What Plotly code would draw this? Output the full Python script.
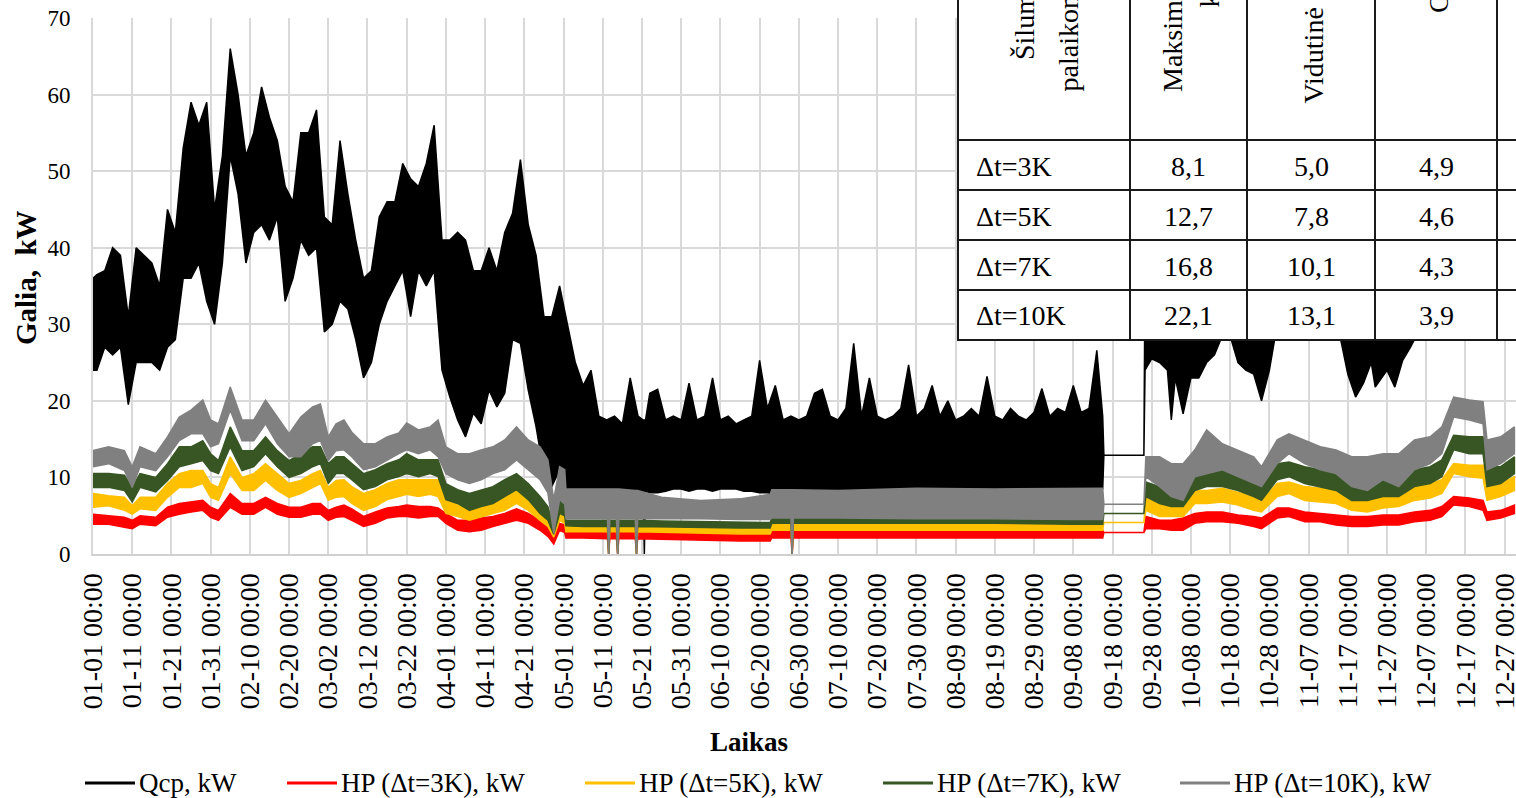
import plotly.graph_objects as go

# ---------------- data ----------------
TICK_DAYS = list(range(0, 361, 10))
TICK_LABELS = ["01-01 00:00", "01-11 00:00", "01-21 00:00", "01-31 00:00", "02-10 00:00",
               "02-20 00:00", "03-02 00:00", "03-12 00:00", "03-22 00:00", "04-01 00:00",
               "04-11 00:00", "04-21 00:00", "05-01 00:00", "05-11 00:00", "05-21 00:00",
               "05-31 00:00", "06-10 00:00", "06-20 00:00", "06-30 00:00", "07-10 00:00",
               "07-20 00:00", "07-30 00:00", "08-09 00:00", "08-19 00:00", "08-29 00:00",
               "09-08 00:00", "09-18 00:00", "09-28 00:00", "10-08 00:00", "10-18 00:00",
               "10-28 00:00", "11-07 00:00", "11-17 00:00", "11-27 00:00", "12-07 00:00",
               "12-17 00:00", "12-27 00:00"]

SERIES_NAMES = ["Qcp, kW", "HP (\u0394t=3K), kW", "HP (\u0394t=5K), kW",
                "HP (\u0394t=7K), kW", "HP (\u0394t=10K), kW"]
SERIES_COLORS = ["#000000", "#FF0000", "#FFC000", "#375623", "#808080"]

# Qcp: daily envelope (low / high), day of year
QCP_DAYS = [0, 1, 3, 5, 7, 9, 11, 13, 15, 17, 19, 21, 23, 25, 27, 29, 31, 33, 35, 37, 39,
            41, 43, 45, 47, 49, 51, 53, 55, 57, 59, 61, 63, 65, 67, 69, 71, 73, 75, 77, 79,
            81, 83, 85, 87, 89, 91, 93, 95, 97, 99, 101, 103, 105, 107, 109, 111, 113, 115,
            117, 119, 121, 123, 125,
            127, 129, 131, 133, 135, 137, 139, 140.3, 140.6, 140.9,
            142, 144, 146, 148, 150, 152, 154, 156, 158, 160, 162, 164, 166, 168, 170, 172,
            174, 176, 178, 180, 182, 184, 186, 188, 190, 192, 194, 196, 198, 200, 202, 204,
            206, 208, 210, 212, 214, 216, 218, 220, 222, 224, 226, 228, 230, 232, 234, 236,
            238, 240, 242, 244, 246, 248, 250, 252, 254, 256, 257.5, 257.8, 268.0, 268.3,
            270, 272, 274, 275, 276, 278, 280, 282, 284, 286, 288, 290, 292, 294, 296, 298,
            300, 302, 304, 306, 308, 310, 312, 314, 316, 318, 320, 322, 324, 326, 327, 330,
            332, 334, 336, 338, 340, 342, 344, 346, 348, 350, 352, 354, 356, 358, 360, 362.5]
QCP_HI = [36, 36.5, 37, 40, 39, 31, 40, 39, 38, 35, 45, 42, 53, 59, 56, 59, 45, 52, 66, 60,
          52, 55, 61, 57, 54, 48, 46, 55, 55, 58, 44, 43, 54, 47, 41, 36, 37, 44, 46, 46,
          51, 49, 48, 51, 56, 41, 41, 42, 41, 37, 37, 40, 37, 42, 44.5, 51.5, 43, 39, 31, 31,
          35, 30, 25, 22,
          24, 18, 17.5, 18, 17, 23, 18, 17.5, 17.5, 17.5,
          21, 21.5, 17.5, 18, 17.5, 22.3, 17.5, 18, 23, 17.5,
          18, 17, 17.5, 18, 25.3, 19, 22, 17.5, 18, 17.5,
          18, 21, 21.5, 18, 17.5, 19, 27.5, 18, 23, 18,
          17.5, 18, 19, 24.7, 18, 19, 22, 18, 20, 17.5,
          18, 19, 18, 23.2, 18, 17.5, 19, 18, 17.5, 18.5,
          21.6, 18, 19, 18.5, 22, 18.5, 19, 26.6,
          18, 12.9, 12.9, 38,
          38, 38, 38, 38, 38, 38, 38, 38, 38, 38, 38, 38, 38, 38, 38, 38,
          40, 44, 44, 45, 44, 42, 42, 40, 40, 38, 38, 38, 38, 38, 38, 38,
          38, 38, 40, 42, 42, 44, 46, 50, 52, 52, 50, 50, 42, 42, 44, 45]
QCP_LO = [24, 24, 27, 26, 27, 19.5, 25, 25, 25, 24, 27, 28, 36, 36, 38, 33, 30, 38, 52, 47,
          38, 42, 43, 41, 44, 33, 36, 41, 39, 40, 29, 30, 33, 32, 28, 23, 25, 30, 33, 35,
          37, 31, 37, 35, 37, 24, 20.5, 17.5, 15.3, 18.4, 17, 21.4, 19.2, 21, 28, 27.5, 21.4,
          16.6, 10.5, 8.8, 11, 8.4, 8.4, 8,
          8.2, 8.2, 8, 8, 8, 8, 8.2, 8.2, 0, 8.2,
          8, 8, 8.2, 8.5, 8.5, 8.2, 8.5, 8.5, 8.2, 8.5,
          8.5, 8.5, 8.2, 8.2, 8, 8, 7.8, 8, 7.5, 8,
          8, 7.8, 8, 8, 8, 7.8, 8, 8, 7.8, 8,
          8, 8, 7.8, 8, 8, 8, 7.8, 8, 8, 8,
          7.8, 8, 8, 7.8, 8, 8, 8, 7.8, 8, 8,
          7.8, 8, 8, 7.8, 8, 7.5, 8, 8,
          8.5, 12.9, 12.9, 24,
          25.5, 25, 24, 17.5, 23, 18.3, 23, 23, 25, 26, 28.5, 28.5, 25, 24, 23.5, 20,
          24, 30, 31, 31, 30, 30, 30, 29, 29, 28.5, 23.5, 20.5, 22.3, 25, 21.8, 24,
          21.8, 25.3, 27, 29, 30, 30, 32, 36, 38, 38, 37, 36, 30, 30, 31, 32]

# Heat-pump series: low / high of each band, day of year
HP_DAYS = [0, 4, 8, 10, 12, 16, 19, 22, 25, 28, 30, 32, 35, 38, 41, 44, 47, 50, 53, 56,
           58, 60, 62, 64, 66, 69, 72, 75, 78, 80, 83, 86, 88, 90, 93, 96, 99, 102, 105, 108,
           111, 114, 116, 117.5, 119, 120.3, 120.6, 125,
           131.2, 131.5, 131.8, 133.5, 133.8, 134.1, 138.3, 138.6, 138.9,
           145, 155, 165, 172.7, 173.1, 178.0, 178.3, 178.6,
           190, 210, 230, 250, 257.5, 257.8, 268.0,
           268.5, 272, 275, 278, 281, 284, 288, 292, 296, 298,
           302, 305, 309, 313, 317, 321, 325, 329, 333, 337,
           341, 344, 347, 351, 354.5, 355.5, 359, 362.5]

HP10_LO = [11.4, 11.8, 10.9, 8.7, 11.4, 10.9, 12.7, 14.8, 15.7, 15.7, 14.0, 14.4, 18.8, 14.8,
           14.8, 17.0, 14.4, 12.7, 12.7, 14.4, 14.8, 12.2, 13.5, 13.6, 12.7, 11.0, 11.4, 12.3,
           13.1, 13.6, 13.1, 13.6, 12.7, 10.5, 9.7, 9.2, 9.7, 10.5, 11.0, 12.3, 11.0, 9.7,
           8.0, 2.7, 7.1, 6.5, 4.6, 4.6,
           4.6, 0, 4.6, 4.6, 0, 4.6, 4.6, 0, 4.6,
           4.6, 4.6, 4.5, 4.5, 4.7, 4.7, 0, 4.7,
           4.7, 4.6, 4.6, 4.5, 4.5, 6.5, 6.5,
           10.1, 8.8, 7.5, 7.0, 10.1, 10.5, 11.0, 10.1, 9.2, 8.8,
           11.8, 13.1, 11.8, 11.0, 10.5, 8.8, 8.3, 9.7, 8.8, 11.0,
           11.8, 13.1, 17.9, 17.5, 17.0, 11.0, 11.8, 13.1]
HP10_HI = [13.5, 14.0, 13.5, 11.4, 14.0, 13.1, 15.3, 17.9, 18.8, 20.1, 17.5, 17.0, 21.8, 17.5,
           17.5, 20.1, 17.9, 15.7, 17.9, 19.2, 19.6, 15.3, 17.0, 17.5, 15.9, 14.4, 14.4, 15.3,
           15.8, 17.1, 16.2, 16.6, 17.5, 14.0, 13.1, 13.1, 13.6, 14.0, 14.9, 16.6, 14.9, 14.0,
           12.3, 7.1, 11.4, 11.0, 8.5, 8.5,
           8.5, 8.5, 8.5, 8.5, 8.5, 8.5, 8.3, 8.3, 8.3,
           7.4, 7.0, 7.2, 7.8, 8.4, 8.4, 8.4, 8.4,
           8.3, 8.6, 8.5, 8.6, 8.6, 6.5, 6.5,
           12.7, 12.7, 11.8, 11.8, 13.6, 16.2, 14.4, 13.6, 12.7, 11.4,
           14.9, 15.7, 14.9, 14.0, 13.6, 12.7, 12.7, 13.1, 13.1, 14.9,
           15.3, 16.6, 20.5, 20.1, 19.9, 14.9, 15.3, 16.6]

HP7_LO = [8.7, 8.7, 8.3, 6.8, 8.7, 8.1, 9.6, 11.4, 11.8, 12.2, 10.9, 10.5, 14.0, 10.9,
          11.4, 13.1, 11.4, 10.0, 10.5, 11.4, 11.8, 9.2, 10.5, 10.5, 9.7, 8.4, 8.8, 9.7,
          10.1, 10.5, 10.1, 10.5, 10.1, 7.1, 6.6, 5.7, 6.2, 6.6, 7.5, 8.4, 7.1, 5.3,
          4.4, 2.6, 5.3, 5.0, 3.7, 3.6,
          3.6, 0, 3.6, 3.6, 0, 3.6, 3.6, 0, 3.6,
          3.6, 3.5, 3.4, 3.4, 4.0, 4.0, 0, 4.0,
          4.0, 4.0, 4.0, 3.9, 3.9, 5.3, 5.3,
          7.5, 6.6, 6.2, 6.2, 8.3, 8.8, 8.8, 8.3, 7.5, 7.0,
          9.7, 10.1, 9.2, 8.8, 8.3, 7.0, 7.0, 7.5, 7.5, 8.8,
          9.2, 10.1, 13.6, 13.1, 13.1, 8.8, 9.2, 10.5]
HP7_HI = [10.5, 10.5, 10.3, 8.7, 10.5, 10.0, 11.8, 14.0, 14.0, 14.8, 13.1, 12.2, 16.6, 13.5,
          13.5, 15.3, 13.5, 12.2, 13.1, 14.0, 14.0, 11.8, 12.7, 12.7, 11.8, 10.5, 11.0, 11.8,
          12.3, 13.1, 12.3, 12.3, 12.3, 9.2, 8.4, 7.9, 8.4, 8.8, 9.7, 10.5, 9.2, 7.5,
          6.2, 3.6, 7.1, 6.6, 4.4, 4.4,
          4.4, 4.4, 4.4, 4.4, 4.4, 4.4, 4.4, 4.4, 4.4,
          4.3, 4.2, 4.1, 4.1, 4.7, 4.7, 4.7, 4.7,
          4.7, 4.7, 4.7, 4.6, 4.6, 5.3, 5.3,
          9.4, 8.8, 8.8, 9.2, 10.5, 11.0, 11.0, 10.5, 10.1, 9.2,
          11.8, 12.0, 11.4, 11.0, 10.5, 9.7, 9.2, 9.7, 10.1, 11.0,
          11.4, 12.3, 15.5, 15.3, 15.3, 11.4, 11.4, 12.7]

HP5_LO = [6.1, 6.3, 5.7, 5.2, 5.9, 5.7, 7.4, 8.7, 8.7, 9.2, 7.4, 7.0, 10.5, 8.3,
          8.3, 9.6, 8.3, 7.4, 7.9, 8.7, 9.2, 7.0, 7.4, 7.5, 6.6, 5.7, 6.2, 7.1,
          7.5, 7.8, 7.5, 7.8, 7.5, 5.3, 4.9, 4.4, 4.9, 5.3, 5.7, 6.6, 5.7, 4.4,
          3.6, 2.2, 4.4, 4.0, 2.9, 2.9,
          2.9, 0, 2.9, 2.9, 0, 2.9, 2.9, 0, 2.9,
          2.8, 2.7, 2.6, 2.6, 3.1, 3.1, 0, 3.1,
          3.1, 3.1, 3.1, 3.1, 3.1, 4.1, 4.1,
          5.7, 4.9, 4.9, 4.9, 6.6, 6.6, 6.8, 6.4, 5.7, 5.5,
          7.5, 7.9, 7.0, 6.8, 6.6, 5.7, 5.5, 6.0, 6.2, 7.0,
          7.3, 7.9, 10.5, 10.1, 9.9, 7.0, 7.5, 8.3]
HP5_HI = [7.9, 7.6, 7.4, 6.3, 7.4, 7.4, 9.2, 10.5, 10.9, 10.9, 9.2, 8.7, 12.7, 10.0,
          10.5, 11.8, 10.5, 9.2, 9.6, 10.5, 10.9, 8.7, 9.6, 9.7, 8.8, 7.9, 8.4, 9.2,
          9.7, 9.7, 9.7, 9.7, 9.7, 7.5, 6.6, 6.2, 6.6, 7.1, 7.9, 8.8, 7.5, 6.2,
          4.9, 3.1, 5.7, 5.5, 3.7, 3.6,
          3.6, 3.6, 3.6, 3.6, 3.6, 3.6, 3.6, 3.6, 3.6,
          3.5, 3.4, 3.3, 3.3, 4.0, 4.0, 4.0, 4.0,
          4.0, 4.0, 4.0, 4.0, 4.0, 4.1, 4.1,
          7.3, 6.6, 6.2, 6.6, 8.3, 8.3, 8.6, 8.1, 7.5, 7.0,
          9.2, 9.4, 8.8, 8.6, 8.3, 7.5, 7.5, 7.9, 7.9, 8.8,
          9.2, 9.7, 11.8, 11.6, 11.6, 8.8, 9.2, 10.1]

HP3_LO = [3.9, 3.9, 3.5, 3.3, 3.9, 3.7, 4.8, 5.2, 5.5, 5.7, 4.8, 4.4, 6.1, 5.2,
          5.2, 6.1, 5.2, 4.8, 4.8, 5.2, 5.2, 4.4, 4.8, 4.9, 4.4, 3.6, 4.0, 4.7,
          4.9, 4.9, 4.7, 4.9, 4.9, 4.0, 3.1, 2.9, 3.1, 3.6, 4.0, 4.4, 4.0, 3.1,
          2.3, 1.3, 3.1, 2.8, 2.1, 2.1,
          2.0, 0, 2.0, 2.0, 0, 2.0, 2.0, 0, 2.0,
          1.9, 1.8, 1.7, 1.7, 2.1, 2.1, 0, 2.1,
          2.1, 2.1, 2.1, 2.1, 2.1, 2.8, 2.8,
          3.3, 3.3, 3.1, 3.1, 4.0, 4.2, 4.2, 4.0, 3.6, 3.3,
          4.7, 4.9, 4.2, 4.2, 3.8, 3.6, 3.6, 3.8, 3.8, 4.2,
          4.4, 4.9, 6.4, 6.2, 5.7, 4.4, 4.7, 5.3]
HP3_HI = [5.2, 5.0, 4.8, 4.4, 5.0, 4.8, 6.1, 6.6, 6.8, 7.0, 6.1, 5.7, 7.9, 6.6,
          6.6, 7.4, 6.6, 6.1, 6.1, 6.6, 6.6, 5.7, 6.1, 6.4, 5.9, 4.9, 5.5, 6.0,
          6.2, 6.4, 6.2, 6.2, 6.0, 5.3, 4.4, 4.4, 4.7, 4.9, 5.3, 5.9, 5.3, 4.4,
          3.6, 2.0, 4.0, 3.8, 3.0, 2.9,
          2.9, 2.9, 2.9, 2.9, 2.9, 2.9, 2.8, 2.8, 2.8,
          2.8, 2.7, 2.6, 2.6, 3.1, 3.1, 3.1, 3.1,
          3.1, 3.1, 3.1, 3.1, 3.1, 2.8, 2.8,
          4.9, 4.4, 4.4, 4.7, 5.3, 5.5, 5.5, 5.1, 4.9, 4.7,
          6.0, 6.0, 5.5, 5.3, 5.1, 4.9, 4.9, 5.1, 5.1, 5.5,
          5.7, 6.2, 7.5, 7.3, 7.0, 5.5, 5.7, 6.4]

# Inset table
TABLE_HEADERS = [["\u0160ilumos siurblio", "palaikomas \u0394t"],
                 ["Maksimali galia,", "kW"],
                 ["Vidutin\u0117 galia, kW"],
                 ["COP"]]
TABLE_ROWS = ["\u0394t=3K", "\u0394t=5K", "\u0394t=7K", "\u0394t=10K"]
TABLE_MAX = ["8,1", "12,7", "16,8", "22,1"]
TABLE_AVG = ["5,0", "7,8", "10,1", "13,1"]
TABLE_COP = ["4,9", "4,6", "4,3", "3,9"]

# ---------------- layout helpers (pixel geometry) ----------------
W, H = 1516, 798
PL, PR, PT, PB = 93, 1516, 18, 554
FONT = "Liberation Serif, Times New Roman, serif"


def px_x(p):
    return (p - PL) / (PR - PL)


def px_y(p):
    return (PB - p) / (PB - PT)


def band(days, lo, hi, color):
    d = list(days)
    return go.Scatter(x=d + d[::-1], y=list(hi) + list(lo)[::-1], mode="lines",
                      fill="toself", fillcolor=color,
                      line=dict(color=color, width=1.5),
                      showlegend=False, hoverinfo="skip")


fig = go.Figure()
fig.add_trace(band(QCP_DAYS, QCP_LO, QCP_HI, SERIES_COLORS[0]))
fig.add_trace(band(HP_DAYS, HP3_LO, HP3_HI, SERIES_COLORS[1]))
fig.add_trace(band(HP_DAYS, HP5_LO, HP5_HI, SERIES_COLORS[2]))
fig.add_trace(band(HP_DAYS, HP7_LO, HP7_HI, SERIES_COLORS[3]))
fig.add_trace(band(HP_DAYS, HP10_LO, HP10_HI, SERIES_COLORS[4]))

shapes = []
annotations = []

# ---- table ----
T_LEFT, T_RIGHT, T_TOP = 958, 1540, -6
COL_X = [958, 1130, 1247, 1375, 1497]
ROW_Y = [140, 190, 240, 290, 340]
shapes.append(dict(type="rect", xref="paper", yref="paper",
                   x0=px_x(T_LEFT), x1=px_x(T_RIGHT), y0=px_y(ROW_Y[-1]), y1=px_y(T_TOP),
                   fillcolor="white", line=dict(width=0), layer="above"))
for yy in ROW_Y:
    shapes.append(dict(type="line", xref="paper", yref="paper",
                       x0=px_x(T_LEFT - 1), x1=px_x(T_RIGHT), y0=px_y(yy), y1=px_y(yy),
                       line=dict(color="#1a1a1a", width=2), layer="above"))
for xx in COL_X:
    shapes.append(dict(type="line", xref="paper", yref="paper",
                       x0=px_x(xx), x1=px_x(xx), y0=px_y(ROW_Y[-1] + 1), y1=px_y(T_TOP),
                       line=dict(color="#1a1a1a", width=2), layer="above"))

TFONT = dict(family=FONT, size=28, color="black")
header_pos = [[(1024, 62), (1068, 94)], [(1173, 94), (1209, 10)], [(1313, 106)], [(1439, 15)]]
for lines, poss in zip(TABLE_HEADERS, header_pos):
    for txt, (cx, by) in zip(lines, poss):
        annotations.append(dict(text=txt, xref="paper", yref="paper",
                                x=px_x(cx), y=px_y(by), xanchor="center", yanchor="bottom",
                                textangle=-90, showarrow=False, font=TFONT))
row_centers = [166, 216, 266, 315]
for i, rc in enumerate(row_centers):
    annotations.append(dict(text=TABLE_ROWS[i], xref="paper", yref="paper",
                            x=px_x(974), y=px_y(rc), xanchor="left", yanchor="middle",
                            showarrow=False, font=TFONT))
    for col_vals, cx in ((TABLE_MAX, 1188), (TABLE_AVG, 1311), (TABLE_COP, 1436)):
        annotations.append(dict(text=col_vals[i], xref="paper", yref="paper",
                                x=px_x(cx), y=px_y(rc), xanchor="center", yanchor="middle",
                                showarrow=False, font=TFONT))

# ---- axis titles ----
annotations.append(dict(text="<b>Galia,  kW</b>", xref="paper", yref="paper",
                        x=px_x(26), y=px_y(278), xanchor="center", yanchor="middle",
                        textangle=-90, showarrow=False,
                        font=dict(family=FONT, size=29, color="black")))
annotations.append(dict(text="<b>Laikas</b>", xref="paper", yref="paper",
                        x=px_x(749), y=px_y(742), xanchor="center", yanchor="middle",
                        showarrow=False, font=dict(family=FONT, size=27, color="black")))

# ---- legend (drawn manually) ----
LEG_Y = 783
leg_x = [85, 287, 585, 883, 1180]
for name, color, lx in zip(SERIES_NAMES, SERIES_COLORS, leg_x):
    shapes.append(dict(type="line", xref="paper", yref="paper",
                       x0=px_x(lx), x1=px_x(lx + 50), y0=px_y(LEG_Y), y1=px_y(LEG_Y),
                       line=dict(color=color, width=3)))
    annotations.append(dict(text=name, xref="paper", yref="paper",
                            x=px_x(lx + 52), y=px_y(LEG_Y), xanchor="left", yanchor="middle",
                            showarrow=False, font=dict(family=FONT, size=27, color="black")))

fig.update_layout(
    width=W, height=H,
    margin=dict(l=PL, r=W - PR, t=PT, b=H - PB, pad=0, autoexpand=False),
    paper_bgcolor="white", plot_bgcolor="white",
    font=dict(family=FONT, color="black"),
    showlegend=False,
    shapes=shapes, annotations=annotations,
    xaxis=dict(range=[0, 362.9], tickmode="array", tickvals=TICK_DAYS, ticktext=TICK_LABELS,
               tickangle=-90, tickfont=dict(family=FONT, size=28, color="black"),
               showgrid=True, gridcolor="#d9d9d9", gridwidth=2, zeroline=False,
               showline=True, linecolor="#d0d0d0", linewidth=2, ticks="",
               ticklabelstandoff=6, ticklabeloverflow="allow", automargin=False),
    yaxis=dict(range=[0, 70], dtick=10, tickfont=dict(family=FONT, size=23, color="black"),
               showgrid=True, gridcolor="#d9d9d9", gridwidth=2, zeroline=False,
               showline=True, linecolor="#d9d9d9", linewidth=2, ticks="",
               ticklabelstandoff=16, automargin=False),
)

fig.write_html("out.html",
               config={"displayModeBar": False},
               post_script="document.body.style.margin='0';"
                           "document.body.style.overflow='hidden';")
